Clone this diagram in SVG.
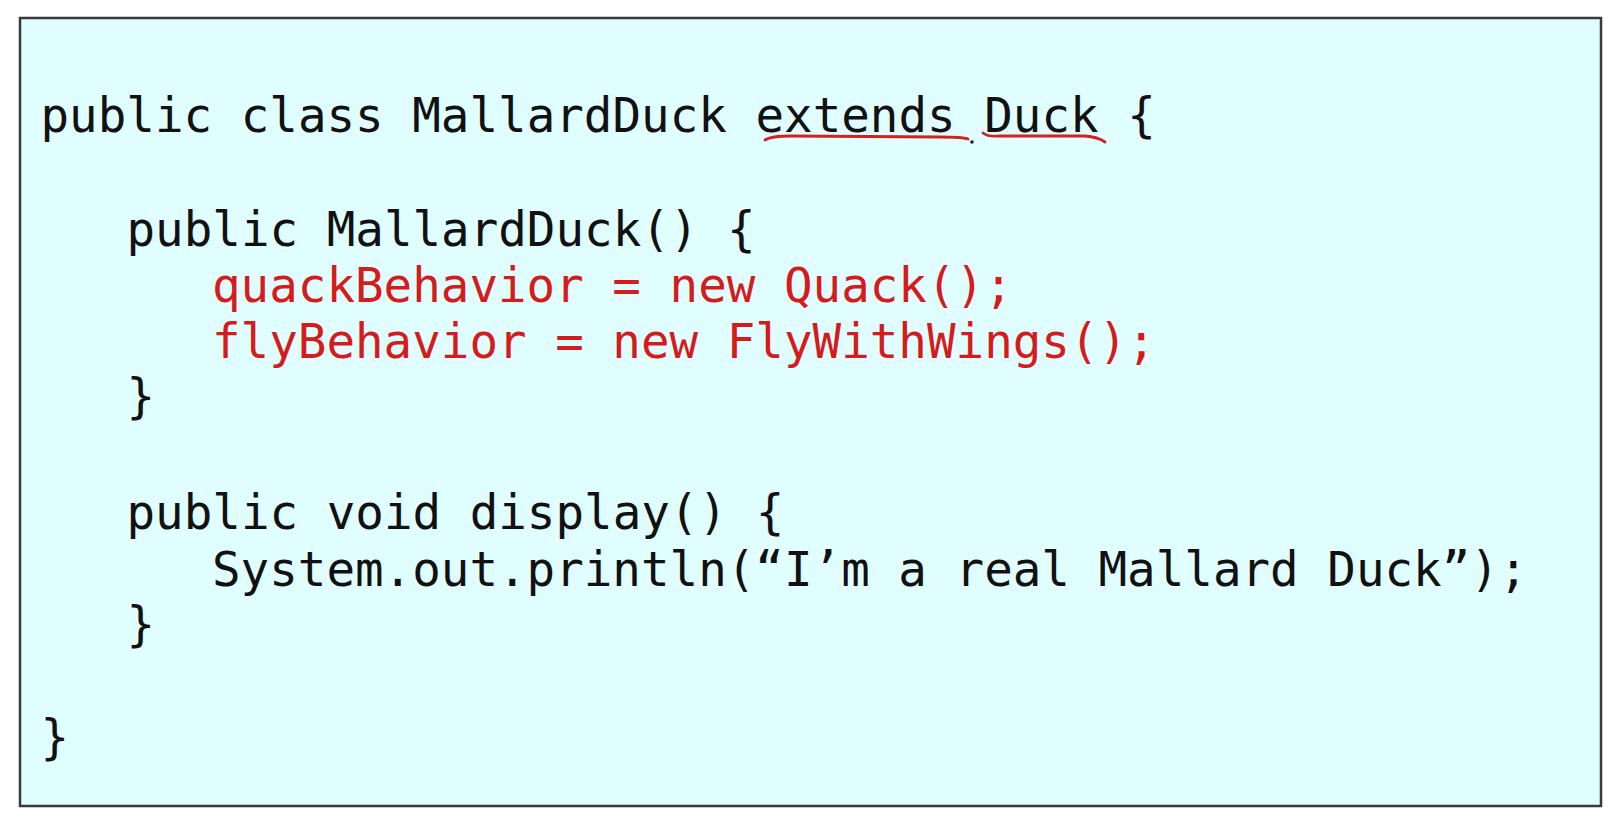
<svg xmlns="http://www.w3.org/2000/svg" width="1620" height="826" viewBox="0 0 1620 826">
<style>
.code{font-family:"DejaVu Sans Mono","Liberation Mono",monospace;font-size:47.5px;fill:#111;white-space:pre}
.red{fill:#d41c1c}
.mark{fill:none;stroke:#d42020;stroke-width:2.8;stroke-linecap:round}
</style>
<rect width="1620" height="826" fill="#ffffff"/>
<g id="codebox">
<rect x="20" y="18" width="1581" height="788" fill="#e0fdff" stroke="#3a3a3a" stroke-width="2.5"/>
</g>
<g id="code" class="code" xml:space="preserve">
<text class="code" x="40.5" y="132">public class MallardDuck extends Duck {</text>
<text class="code" x="126.5" y="246">public MallardDuck() {</text>
<text class="code red" x="212" y="302">quackBehavior = new Quack();</text>
<text class="code red" x="212" y="358">flyBehavior = new FlyWithWings();</text>
<text class="code" x="126.5" y="413">}</text>
<text class="code" x="126.5" y="529">public void display() {</text>
<text class="code" x="212" y="586">System.out.println(“I’m a real Mallard Duck”);</text>
<text class="code" x="126.5" y="641">}</text>
<text class="code" x="40.5" y="754">}</text>
</g>
<g id="annotations">
<path class="mark" d="M765 140 Q771 136 791 136 L940 137 Q962 137 968 139"/>
<circle cx="972" cy="142" r="1.8" fill="#222"/>
<path class="mark" d="M983 133 Q988 137 1000 136 L1085 136 Q1098 137 1105 142"/>
</g>
</svg>
